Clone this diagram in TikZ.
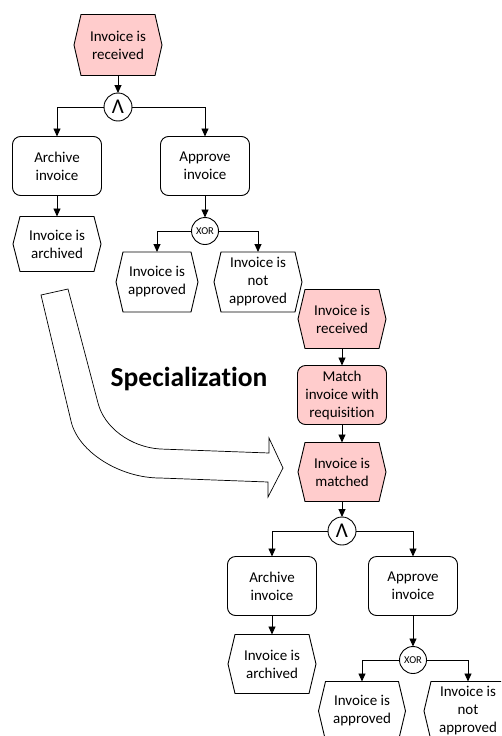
\documentclass[tikz,border=0pt]{standalone}
\usepackage{fontspec}
\setmainfont{Carlito}[Ligatures=NoCommon]
\usetikzlibrary{arrows.meta}
\makeatletter
\pgfdeclareshape{hexevent}{%
  \inheritsavedanchors[from=rectangle]%
  \inheritanchorborder[from=rectangle]%
  \inheritanchor[from=rectangle]{center}%
  \inheritanchor[from=rectangle]{north}%
  \inheritanchor[from=rectangle]{south}%
  \inheritanchor[from=rectangle]{east}%
  \inheritanchor[from=rectangle]{west}%
  \inheritanchor[from=rectangle]{north east}%
  \inheritanchor[from=rectangle]{north west}%
  \inheritanchor[from=rectangle]{south east}%
  \inheritanchor[from=rectangle]{south west}%
  \backgroundpath{%
    \southwest \edef\hexxa{\the\pgf@x}\edef\hexya{\the\pgf@y}%
    \northeast \edef\hexxb{\the\pgf@x}\edef\hexyb{\the\pgf@y}%
    \pgfpathmoveto{\pgfpoint{\hexxa+7pt}{\hexya}}%
    \pgfpathlineto{\pgfpoint{\hexxb-7pt}{\hexya}}%
    \pgfpathlineto{\pgfpoint{\hexxb}{(\hexya+\hexyb)/2}}%
    \pgfpathlineto{\pgfpoint{\hexxb-7pt}{\hexyb}}%
    \pgfpathlineto{\pgfpoint{\hexxa+7pt}{\hexyb}}%
    \pgfpathlineto{\pgfpoint{\hexxa}{(\hexya+\hexyb)/2}}%
    \pgfpathclose
  }%
}
\makeatother
\definecolor{evpink}{HTML}{FFCCCC}
\tikzset{
  txt/.style={font=\fontsize{15}{18}\selectfont, align=center, inner sep=0pt, outer sep=0pt},
  event/.style={txt, shape=hexevent, draw, line width=0.9pt, fill=white, minimum width=88pt, minimum height=59pt},
  pinkev/.style={event, fill=evpink},
  func/.style={txt, rectangle, draw, line width=0.9pt, rounded corners=8pt, fill=white, minimum width=89pt, minimum height=59pt},
  gate/.style={circle, draw, line width=0.9pt, fill=white, minimum size=28pt, inner sep=0pt, outer sep=0pt},
  conn/.style={draw, line width=0.9pt, -{Triangle[length=8pt,width=7pt]}},
  bigarrow/.style={draw, line width=0.7pt, fill=white, line join=miter}
}
\begin{document}
\begin{tikzpicture}[x=1pt, y=-1pt]
\useasboundingbox (0,0) rectangle (501,736);
\clip (0,0) rectangle (501,736);
% top model
\node[pinkev, minimum height=61pt] (e1) at (118,45) {Invoice is\\received};
\node[gate] (and1) at (118,107) {\fontsize{21}{21}\selectfont Λ};
\node[func] (f1) at (57,166) {Archive\\invoice};
\node[func] (f2) at (205,166) {Approve\\invoice};
\node[event, minimum height=55pt] (e2) at (57,244) {Invoice is\\archived};
\node[gate, minimum size=27pt] (xor1) at (205,231) {\fontsize{10.5}{11}\selectfont XOR};
\node[event, minimum width=82pt, minimum height=60pt] (e3) at (157,282) {Invoice is\\approved};
\node[event, minimum height=60pt] (e4) at (258,282) {Invoice is\\not\\approved};
\draw[conn] (e1) -- (and1);
\draw[conn] (and1.west) -| (f1.north);
\draw[conn] (and1.east) -| (f2.north);
\draw[conn] (f1) -- (e2);
\draw[conn] (f2) -- (xor1);
\draw[conn] (xor1.west) -| (e3.north);
\draw[conn] (xor1.east) -| (e4.north);
% specialization arrow
\draw[bigarrow] (41,295) -- (71,421) .. controls (78,452) and (120,478) .. (160,478) -- (268,482) -- (268,497) -- (283,468) -- (269,438) -- (269,453) -- (160,449) .. controls (130,447) and (104,427) .. (98,403) -- (68,289) -- cycle;
\node[font=\bfseries\fontsize{27.5}{33}\selectfont, anchor=base, inner sep=0pt] (spec) at (189,386) {Specialization};
% specialized model
\node[pinkev] (e5) at (342,319) {Invoice is\\received};
\node[func, fill=evpink] (f3) at (342,395) {Match\\invoice with\\requisition};
\node[pinkev] (e6) at (342,472) {Invoice is\\matched};
\node[gate] (and2) at (342,531) {\fontsize{21}{21}\selectfont Λ};
\node[func] (f4) at (272,586) {Archive\\invoice};
\node[func] (f5) at (413,586) {Approve\\invoice};
\node[event] (e7) at (272,664) {Invoice is\\archived};
\node[gate, minimum size=27pt] (xor2) at (413,660) {\fontsize{10.5}{11}\selectfont XOR};
\node[event, minimum width=87pt] (e8) at (362,711) {Invoice is\\approved};
\node[event] (e9) at (468,711) {Invoice is\\not\\approved};
\draw[conn] (e5) -- (f3);
\draw[conn] (f3) -- (e6);
\draw[conn] (e6) -- (and2);
\draw[conn] (and2.west) -| (f4.north);
\draw[conn] (and2.east) -| (f5.north);
\draw[conn] (f4) -- (e7);
\draw[conn] (f5) -- (xor2);
\draw[conn] (xor2.west) -| (e8.north);
\draw[conn] (xor2.east) -| (e9.north);
\end{tikzpicture}
\end{document}
